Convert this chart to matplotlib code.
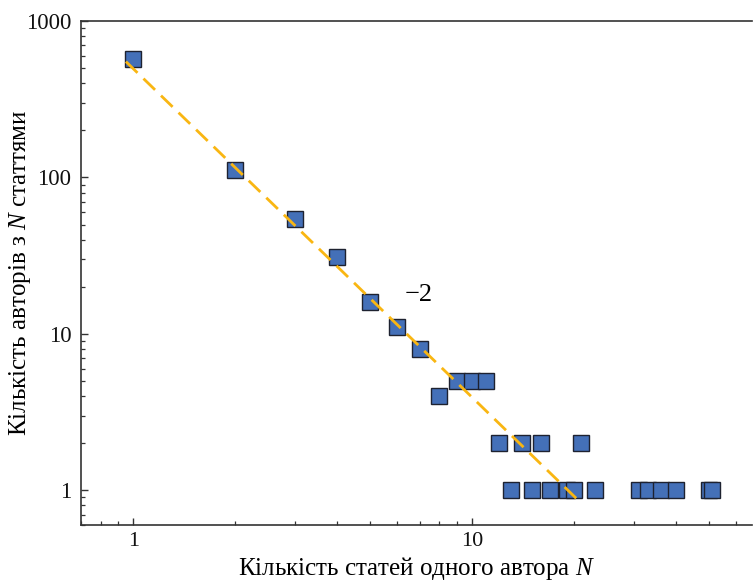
import matplotlib
matplotlib.use("Agg")
import matplotlib.pyplot as plt
import numpy as np

# articles per author N and number of authors with N articles
n_articles = [1, 2, 3, 4, 5, 6, 7, 8, 9, 10, 11,
              12, 14, 16, 21,
              13, 15, 17, 19, 20, 23, 31, 33, 36, 40, 50, 51]
n_authors = [570, 111, 54, 31, 16, 11, 8, 4, 5, 5, 5,
             2, 2, 2, 2,
             1, 1, 1, 1, 1, 1, 1, 1, 1, 1, 1, 1]

# power-law guide line
fit_x = [0.95, 21.0]
fit_c = 494.0
fit_slope = -2.1

plt.rcParams['font.family'] = ['Liberation Serif', 'DejaVu Serif']
plt.rcParams['mathtext.fontset'] = 'custom'
plt.rcParams['mathtext.it'] = 'Liberation Serif:italic'
plt.rcParams['mathtext.rm'] = 'Liberation Serif'

fig = plt.figure(figsize=(7.53, 5.81), dpi=100)
ax = fig.add_axes([81 / 753, 1 - 525 / 581, 671 / 753, 504 / 581])

ax.plot(n_articles, n_authors, 's', ms=11.5, mfc='#4470B8', mec='#1E2230',
        mew=1.0, zorder=2, clip_on=False)

fx = np.array(fit_x)
ax.plot(fx, fit_c * fx ** fit_slope, color='#F9B612', lw=2.0,
        linestyle=(0, (5.8, 3.0)), zorder=3)

ax.text(6.95, 17.8, '\u22122', fontsize=19, ha='center', va='center')

ax.set_xscale('log')
ax.set_yscale('log')
ax.set_xlim(0.70, 67)
ax.set_ylim(0.6, 1000)

ax.set_xticks([1, 10])
ax.set_xticklabels(['1', '10'])
ax.set_yticks([1, 10, 100, 1000])
ax.set_yticklabels(['1', '10', '100', '1000'])

ax.spines['right'].set_visible(False)
for side in ['left', 'bottom', 'top']:
    ax.spines[side].set_color('#333333')
    ax.spines[side].set_linewidth(1.2)

ax.tick_params(which='both', direction='in', colors='#333333', labelcolor='#111111',
               labelsize=16.5, top=False, right=False)
ax.tick_params(which='major', length=5, width=1.0)
ax.tick_params(which='minor', length=3, width=0.9)
ax.tick_params(axis='y', pad=7)
ax.tick_params(axis='x', pad=5, labelsize=16)

ax.set_xlabel('Кількість статей одного автора $N$', fontsize=18)
ax.set_ylabel('Кількість авторів з $N$ статтями', fontsize=18)
ax.xaxis.set_label_coords(0.5, -0.060)
ax.yaxis.set_label_coords(-0.072, 0.5)

fig.savefig('out.png', dpi=100)
